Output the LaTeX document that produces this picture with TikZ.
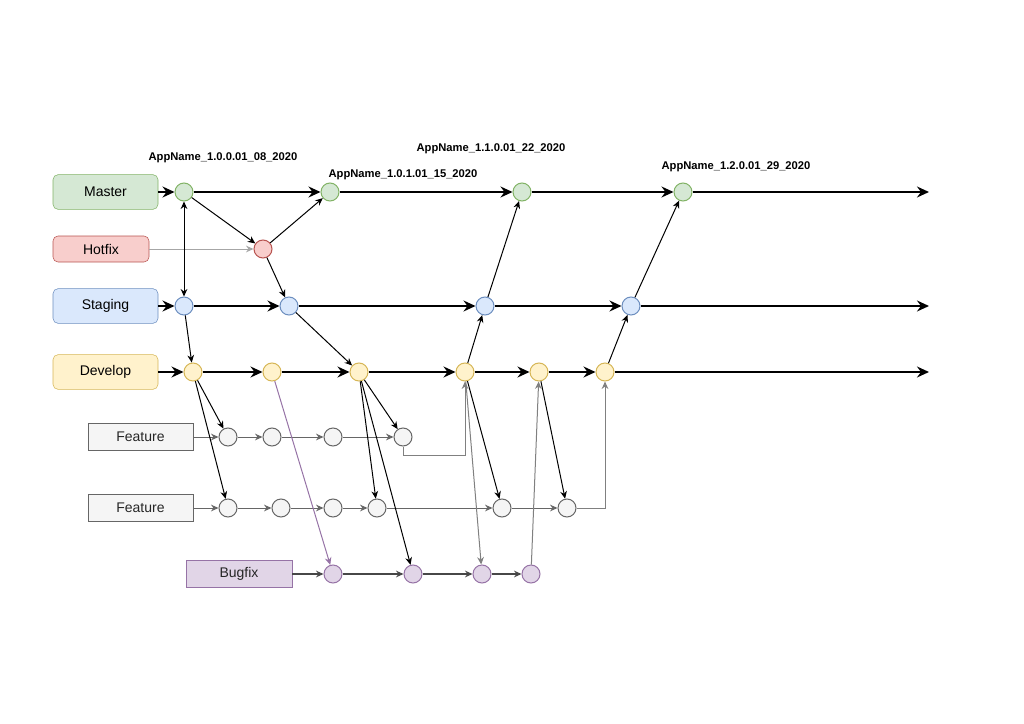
\documentclass[tikz,border=0pt]{standalone}
\usepackage{fontspec}
\setmainfont{Liberation Sans}
\usepackage{xcolor}
\usepackage{tikz}
\usetikzlibrary{arrows.meta, positioning}

\definecolor{mstfill}{HTML}{D5E8D4}
\definecolor{mstline}{HTML}{82B366}
\definecolor{hfxfill}{HTML}{F8CECC}
\definecolor{hfxline}{HTML}{B85450}
\definecolor{stgfill}{HTML}{DAE8FC}
\definecolor{stgline}{HTML}{6C8EBF}
\definecolor{devfill}{HTML}{FFF2CC}
\definecolor{devline}{HTML}{D6B656}
\definecolor{ftrfill}{HTML}{F5F5F5}
\definecolor{ftrline}{HTML}{666666}
\definecolor{bfxfill}{HTML}{E1D5E7}
\definecolor{bfxline}{HTML}{9673A6}

\begin{document}
\begin{tikzpicture}[x=0.75pt, y=-0.75pt,
		bigtip/.tip={Stealth[length=9pt, width=8.2pt, inset=3pt]},
		smalltip/.tip={Stealth[length=5.6pt, width=5pt, inset=1.8pt]},
		branch/.style={draw, rounded corners=3.75pt, minimum width=78.75pt, minimum height=26pt, font=\fontsize{10.5}{12}\selectfont},
		ftrbox/.style={draw=ftrline, fill=ftrfill, minimum width=78.75pt, minimum height=20.25pt, text=black!85, font=\fontsize{10.5}{12}\selectfont},
		commit/.style={circle, draw, line width=0.75pt, minimum size=13.5pt, inner sep=0pt},
		tag/.style={font=\bfseries\fontsize{8.4}{10}\selectfont},
		main/.style={-bigtip, line width=1.6pt},
		link/.style={-smalltip, line width=0.75pt},
		ftrflow/.style={link, draw=ftrline},
		bfxflow/.style={-smalltip, line width=1.1pt, draw=black!72},
		elbow/.style={link, draw=black!50}]

		\useasboundingbox (0,0) rectangle (1024,724);

		\node[branch, draw=mstline, fill=mstfill] (master) at (105.5,192) {Master};
		\node[branch, draw=hfxline, fill=hfxfill, minimum width=72pt, minimum height=19.5pt] (hotfix) at (101,249) {Hotfix};
		\node[branch, draw=stgline, fill=stgfill] (staging) at (105.5,306) {Staging};
		\node[branch, draw=devline, fill=devfill] (develop) at (105.5,372) {Develop};
		\node[ftrbox] (featA) at (140.5,437) {Feature};
		\node[ftrbox] (featB) at (140.5,508) {Feature};
		\node[ftrbox, draw=bfxline, fill=bfxfill, minimum width=79.5pt] (bugfix) at (239,574) {Bugfix};

		\node[commit, draw=mstline, fill=mstfill] (m1) at (184,192) {};
		\node[commit, draw=mstline, fill=mstfill] (m2) at (330,192) {};
		\node[commit, draw=mstline, fill=mstfill] (m3) at (522,192) {};
		\node[commit, draw=mstline, fill=mstfill] (m4) at (683,192) {};
		\coordinate (mEnd) at (929,192);

		\node[commit, draw=hfxline, fill=hfxfill] (h1) at (263,249) {};

		\node[commit, draw=stgline, fill=stgfill] (s1) at (184,306) {};
		\node[commit, draw=stgline, fill=stgfill] (s2) at (289,306) {};
		\node[commit, draw=stgline, fill=stgfill] (s3) at (485,306) {};
		\node[commit, draw=stgline, fill=stgfill] (s4) at (631,306) {};
		\coordinate (sEnd) at (929,306);

		\node[commit, draw=devline, fill=devfill] (d1) at (193,372) {};
		\node[commit, draw=devline, fill=devfill] (d2) at (272,372) {};
		\node[commit, draw=devline, fill=devfill] (d3) at (359,372) {};
		\node[commit, draw=devline, fill=devfill] (d4) at (465,372) {};
		\node[commit, draw=devline, fill=devfill] (d5) at (539,372) {};
		\node[commit, draw=devline, fill=devfill] (d6) at (605,372) {};
		\coordinate (dEnd) at (929,372);

		\node[commit, draw=ftrline, fill=ftrfill] (fa1) at (228,437) {};
		\node[commit, draw=ftrline, fill=ftrfill] (fa2) at (272,437) {};
		\node[commit, draw=ftrline, fill=ftrfill] (fa3) at (333,437) {};
		\node[commit, draw=ftrline, fill=ftrfill] (fa4) at (403,437) {};

		\node[commit, draw=ftrline, fill=ftrfill] (fb1) at (228,508) {};
		\node[commit, draw=ftrline, fill=ftrfill] (fb2) at (281,508) {};
		\node[commit, draw=ftrline, fill=ftrfill] (fb3) at (333,508) {};
		\node[commit, draw=ftrline, fill=ftrfill] (fb4) at (377,508) {};
		\node[commit, draw=ftrline, fill=ftrfill] (fb5) at (502,508) {};
		\node[commit, draw=ftrline, fill=ftrfill] (fb6) at (567,508) {};

		\node[commit, draw=bfxline, fill=bfxfill] (b1) at (333,574) {};
		\node[commit, draw=bfxline, fill=bfxfill] (b2) at (413,574) {};
		\node[commit, draw=bfxline, fill=bfxfill] (b3) at (482,574) {};
		\node[commit, draw=bfxline, fill=bfxfill] (b4) at (531,574) {};

		\node[tag] (t1) at (223,158) {AppName\_1.0.0.01\_08\_2020};
		\node[tag] (t2) at (403,175) {AppName\_1.0.1.01\_15\_2020};
		\node[tag] (t3) at (491,149) {AppName\_1.1.0.01\_22\_2020};
		\node[tag] (t4) at (736,167) {AppName\_1.2.0.01\_29\_2020};

		\draw[main] (master) -- (m1);
		\draw[main] (m1) -- (m2);
		\draw[main] (m2) -- (m3);
		\draw[main] (m3) -- (m4);
		\draw[main] (m4) -- (mEnd);

		\draw[main] (staging) -- (s1);
		\draw[main] (s1) -- (s2);
		\draw[main] (s2) -- (s3);
		\draw[main] (s3) -- (s4);
		\draw[main] (s4) -- (sEnd);

		\draw[main] (develop) -- (d1);
		\draw[main] (d1) -- (d2);
		\draw[main] (d2) -- (d3);
		\draw[main] (d3) -- (d4);
		\draw[main] (d4) -- (d5);
		\draw[main] (d5) -- (d6);
		\draw[main] (d6) -- (dEnd);

		\draw[link, draw=black!35] (hotfix) -- (h1);
		\draw[link, smalltip-smalltip] (m1) -- (s1);
		\draw[link] (m1) -- (h1);
		\draw[link] (h1) -- (m2);
		\draw[link] (h1) -- (s2);
		\draw[link] (s1) -- (d1);
		\draw[link] (s2) -- (d3);
		\draw[link] (d4) -- (s3);
		\draw[link] (s3) -- (m3);
		\draw[link] (d6) -- (s4);
		\draw[link] (s4) -- (m4);

		\draw[ftrflow] (featA) -- (fa1);
		\draw[ftrflow] (fa1) -- (fa2);
		\draw[ftrflow] (fa2) -- (fa3);
		\draw[ftrflow] (fa3) -- (fa4);
		\draw[elbow] (fa4.south) -- ++(0,9) -| (d4.south);

		\draw[ftrflow] (featB) -- (fb1);
		\draw[ftrflow] (fb1) -- (fb2);
		\draw[ftrflow] (fb2) -- (fb3);
		\draw[ftrflow] (fb3) -- (fb4);
		\draw[ftrflow] (fb4) -- (fb5);
		\draw[ftrflow] (fb5) -- (fb6);
		\draw[elbow] (fb6.east) -| (d6.south);

		\draw[bfxflow] (bugfix) -- (b1);
		\draw[bfxflow] (b1) -- (b2);
		\draw[bfxflow] (b2) -- (b3);
		\draw[bfxflow] (b3) -- (b4);

		\draw[link] (d1) -- (fa1);
		\draw[link] (d1) -- (fb1);
		\draw[link, draw=bfxline] (d2) -- (b1);
		\draw[link] (d3) -- (fa4);
		\draw[link] (d3) -- (fb4);
		\draw[link] (d3) -- (b2);
		\draw[link] (d4) -- (fb5);
		\draw[elbow] (d4) -- (b3);
		\draw[link] (d5) -- (fb6);
		\draw[elbow] (b4) -- (d5);

	\end{tikzpicture}
\end{document}
